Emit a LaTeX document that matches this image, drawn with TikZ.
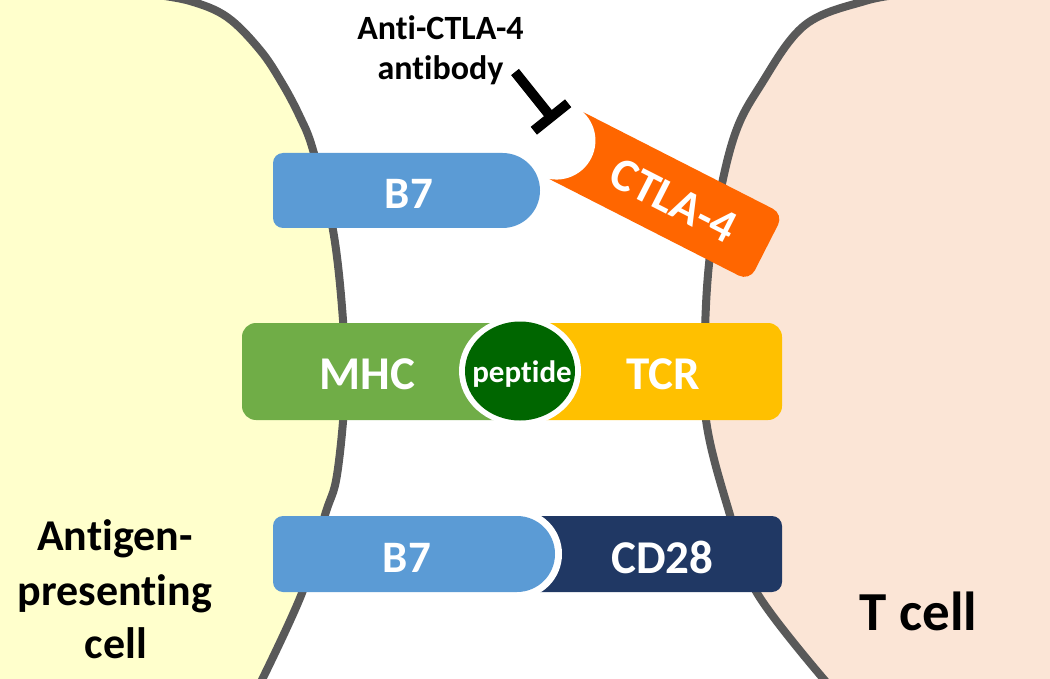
\documentclass[tikz,border=0pt]{standalone}
\usepackage{fontspec}
\setmainfont{Carlito}[Ligatures=NoCommon]
\usetikzlibrary{calc}
\definecolor{apcfill}{HTML}{FFFFCC}
\definecolor{tfill}{HTML}{FBE5D6}
\definecolor{memb}{HTML}{595959}
\definecolor{b7col}{HTML}{5B9BD5}
\definecolor{mhccol}{HTML}{70AD47}
\definecolor{tcrcol}{HTML}{FFC000}
\definecolor{pepcol}{HTML}{006600}
\definecolor{cd28col}{HTML}{203864}
\definecolor{ctlacol}{HTML}{FF6600}
% box from (x0,y0) to (x1,y1), left corner radius #5, right corner radius #6
\newcommand\pathbox[6]{({#1+#5},#2) -- ({#3-#6},#2)
  .. controls ({#3-#6+0.5523*#6},#2) and (#3,{#2+#6-0.5523*#6}) .. (#3,{#2+#6})
  -- (#3,{#4-#6})
  .. controls (#3,{#4-#6+0.5523*#6}) and ({#3-#6+0.5523*#6},#4) .. ({#3-#6},#4)
  -- ({#1+#5},#4)
  .. controls ({#1+#5-0.5523*#5},#4) and (#1,{#4-#5+0.5523*#5}) .. (#1,{#4-#5})
  -- (#1,{#2+#5})
  .. controls (#1,{#2+#5-0.5523*#5}) and ({#1+#5-0.5523*#5},#2) .. ({#1+#5},#2) -- cycle}
\tikzset{
  membrane/.style={draw=memb, line width=8pt},
  boxlabel/.style={text=white, anchor=base, inner sep=0pt, font=\bfseries\fontsize{47}{47}\selectfont},
  blacklabel/.style={text=black, anchor=base, inner sep=0pt},
  tbar/.style={line width=10pt, draw=black},
}
\begin{document}
\begin{tikzpicture}[x=1pt,y=-1pt]
\useasboundingbox (0,0) rectangle (1050,679);
\fill[white] (0,0) rectangle (1050,679);
% antigen-presenting cell
\fill[apcfill] (-10,-10) -- plot[smooth,tension=0.6] coordinates {(150,-6) (190,1) (227,17) (260,50) (282,83) (300,117) (313,150) (333,230) (343,320) (345,390) (337,475) (325,515) (302,593) (257,690)} -- (-10,690) -- cycle;
\draw[membrane] plot[smooth,tension=0.6] coordinates {(150,-6) (190,1) (227,17) (260,50) (282,83) (300,117) (313,150) (333,230) (343,320) (345,390) (337,475) (325,515) (302,593) (257,690)};
% T cell
\fill[tfill] (1060,-10) -- plot[smooth,tension=0.6] coordinates {(905,-6) (865,1) (805,25) (762,83) (733,140) (712,240) (705,330) (706,420) (730,515) (757,593) (833,690)} -- (1060,690) -- cycle;
\draw[membrane] plot[smooth,tension=0.6] coordinates {(905,-6) (865,1) (805,25) (762,83) (733,140) (712,240) (705,330) (706,420) (730,515) (757,593) (833,690)};
% CTLA-4
\begin{scope}[shift={(583,112)}, rotate=-27]
  \fill[ctlacol] \pathbox{0}{0}{225}{75}{0}{12};
  \fill[white] (-10.7,37.5) circle[radius=39];
  \node[boxlabel, rotate=-27] (ctla) at (121,53) {CTLA-4};
\end{scope}
% B7 (top)
\fill[b7col] \pathbox{273}{153}{540}{228}{10}{37.5};
\node[boxlabel, font=\bfseries\fontsize{45}{45}\selectfont] (b7a) at (409,209) {B7};
% MHC / peptide / TCR
\fill[mhccol] \pathbox{242}{323}{530}{420}{14}{0};
\fill[tcrcol] \pathbox{510}{323}{782}{420}{0}{14};
\fill[white] (520,371) ellipse[x radius=61, y radius=55];
\fill[pepcol] (520,371) ellipse[x radius=55, y radius=49.5];
\node[boxlabel] (mhc) at (367.5,389) {MHC};
\node[boxlabel] (tcr) at (663,389) {TCR};
\node[boxlabel, font=\bfseries\fontsize{31}{31}\selectfont] (pep) at (522,382) {peptide};
% B7 / CD28
\fill[cd28col] \pathbox{530}{516}{782}{592}{0}{10};
\fill[white] (517,554) circle[radius=45];
\fill[b7col] \pathbox{273}{516}{555}{592}{10}{38};
\node[boxlabel, font=\bfseries\fontsize{45}{45}\selectfont] (b7b) at (407,572) {B7};
\node[boxlabel] (cd28) at (662.5,573) {CD28};
% antibody
\node[blacklabel, font=\bfseries\fontsize{34}{34}\selectfont] (ab1) at (440.5,40) {Anti-CTLA-4};
\node[blacklabel, font=\bfseries\fontsize{34}{34}\selectfont] (ab2) at (440.5,80) {antibody};
\coordinate (tstart) at (515,72);
\coordinate (tend) at (551,117);
\draw[tbar] (tstart) -- (tend);
\draw[tbar] ($(tend)!22pt!90:(tstart)$) -- ($(tend)!22pt!-90:(tstart)$);
% cell labels
\node[blacklabel, font=\bfseries\fontsize{44}{44}\selectfont] (apc1) at (115,550) {Antigen-};
\node[blacklabel, font=\bfseries\fontsize{44}{44}\selectfont] (apc2) at (115,605) {presenting};
\node[blacklabel, font=\bfseries\fontsize{44}{44}\selectfont] (apc3) at (116,658) {cell};
\node[blacklabel, font=\bfseries\fontsize{55}{55}\selectfont] (tcell) at (918.5,630) {T cell};
\end{tikzpicture}
\end{document}
